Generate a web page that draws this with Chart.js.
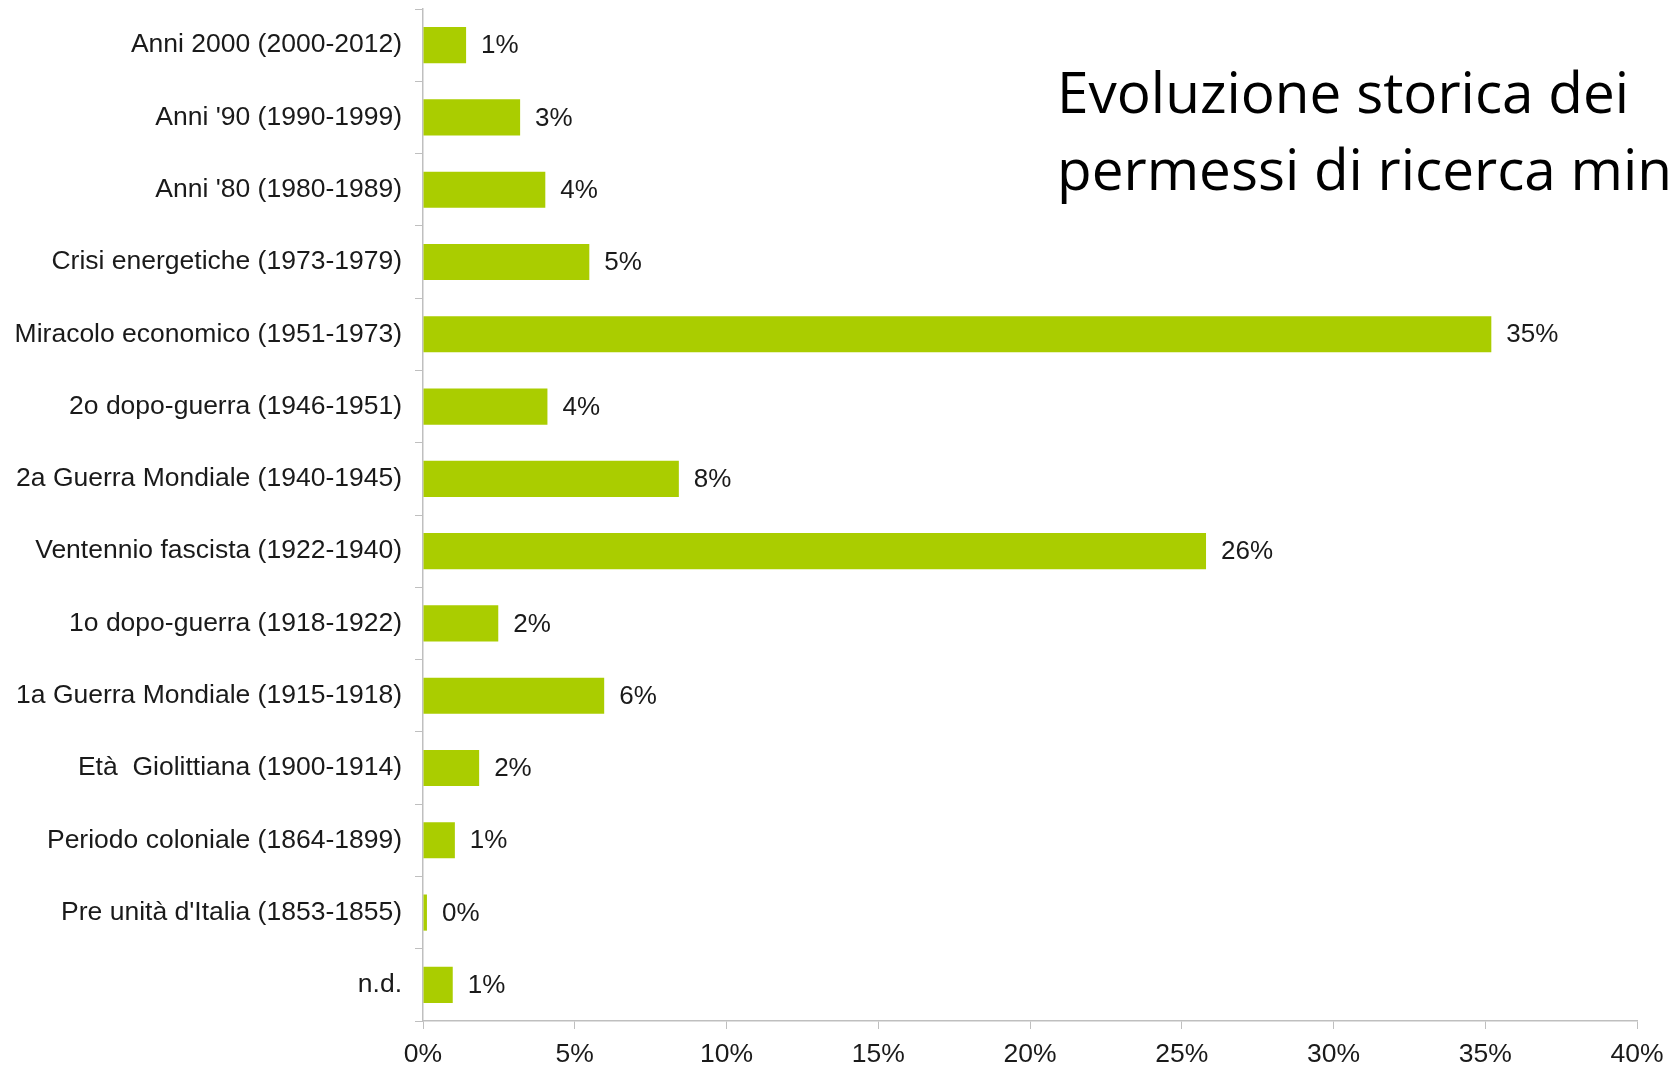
<!DOCTYPE html>
<html>
<head>
<meta charset="utf-8">
<script src="https://cdn.jsdelivr.net/npm/chart.js@4"></script>
<style>
  html, body { margin: 0; padding: 0; background: #fff; overflow: hidden; }
  #wrap { width: 1670px; height: 1067px; position: relative; }
</style>
</head>
<body>
<div id="wrap"><canvas id="myChart"></canvas></div>
<script>
// periods, top to bottom as in the picture
const periods = [
  "Anni 2000 (2000-2012)",
  "Anni '90 (1990-1999)",
  "Anni '80 (1980-1989)",
  "Crisi energetiche (1973-1979)",
  "Miracolo economico (1951-1973)",
  "2o dopo-guerra (1946-1951)",
  "2a Guerra Mondiale (1940-1945)",
  "Ventennio fascista (1922-1940)",
  "1o dopo-guerra (1918-1922)",
  "1a Guerra Mondiale (1915-1918)",
  "Età  Giolittiana (1900-1914)",
  "Periodo coloniale (1864-1899)",
  "Pre unità d'Italia (1853-1855)",
  "n.d."
];

// share of permits (%)
const shares = [1.42, 3.2, 4.03, 5.48, 35.2, 4.1, 8.43, 25.8, 2.48, 5.97, 1.85, 1.05, 0.13, 0.98];

const titleLines = ["Evoluzione storica dei", "permessi di ricerca min"];

const ctx = document.getElementById("myChart").getContext("2d");
const labelFont = "'Liberation Sans', Arial, sans-serif";

// value labels at the end of each bar
const barLabels = {
  id: "barLabels",
  afterDatasetsDraw(chart) {
    const c = chart.ctx;
    const meta = chart.getDatasetMeta(0);
    c.save();
    c.font = "26px " + labelFont;
    c.fillStyle = "#1a1a1a";
    c.textBaseline = "middle";
    meta.data.forEach((bar, i) => {
      c.fillText(Math.round(shares[i]) + "%", bar.x + 15, bar.y + 1);
    });
    c.restore();
  }
};

const titleText = {
  id: "titleText",
  afterDraw(chart) {
    const c = chart.ctx;
    c.save();
    c.font = "56px 'Open Sans', sans-serif";
    c.fillStyle = "#000";
    c.textBaseline = "alphabetic";
    const sx = 572 / c.measureText(titleLines[0]).width;
    titleLines.forEach((line, i) => {
      c.save();
      c.translate(1057, 113 + i * 77);
      c.scale(sx, 1);
      c.fillText(line, 0, 0);
      c.restore();
    });
    c.restore();
  }
};

const lineChart = new Chart(ctx, {
  type: "bar",
  data: {
    labels: periods,
    datasets: [
      {
        data: shares,
        backgroundColor: "#aacd00",
        borderWidth: 0,
        barPercentage: 1,
        categoryPercentage: 0.5,
      },
    ],
  },
  options: {
    indexAxis: "y",
    responsive: true,
    maintainAspectRatio: false,
    animation: false,
    layout: { padding: { left: 14, right: 33, top: 9, bottom: 0 } },
    plugins: {
      legend: { display: false },
      tooltip: { enabled: false },
    },
    scales: {
      x: {
        min: 0,
        max: 40,
        ticks: {
          stepSize: 5,
          callback: (v) => v + "%",
          font: { family: labelFont, size: 26.5 },
          color: "#1a1a1a",
          padding: 10,
          maxRotation: 0,
        },
        grid: { drawOnChartArea: false, tickLength: 8, color: "#bfbfbf" },
        border: { color: "#bfbfbf", width: 1.5 },
        afterFit(scale) {
          scale.height = 46;
          scale.paddingLeft = 0;
          scale.paddingRight = 0;
        },
      },
      y: {
        ticks: {
          font: { family: labelFont, size: 26.5 },
          color: "#1a1a1a",
          padding: 13,
        },
        grid: { drawOnChartArea: false, tickLength: 8, color: "#bfbfbf" },
        border: { color: "#bfbfbf", width: 1.5 },
        afterFit(scale) {
          scale.width = 409;
          scale.paddingTop = 0;
          scale.paddingBottom = 0;
        },
      },
    },
  },
  plugins: [barLabels, titleText],
});
</script>
</body>
</html>
